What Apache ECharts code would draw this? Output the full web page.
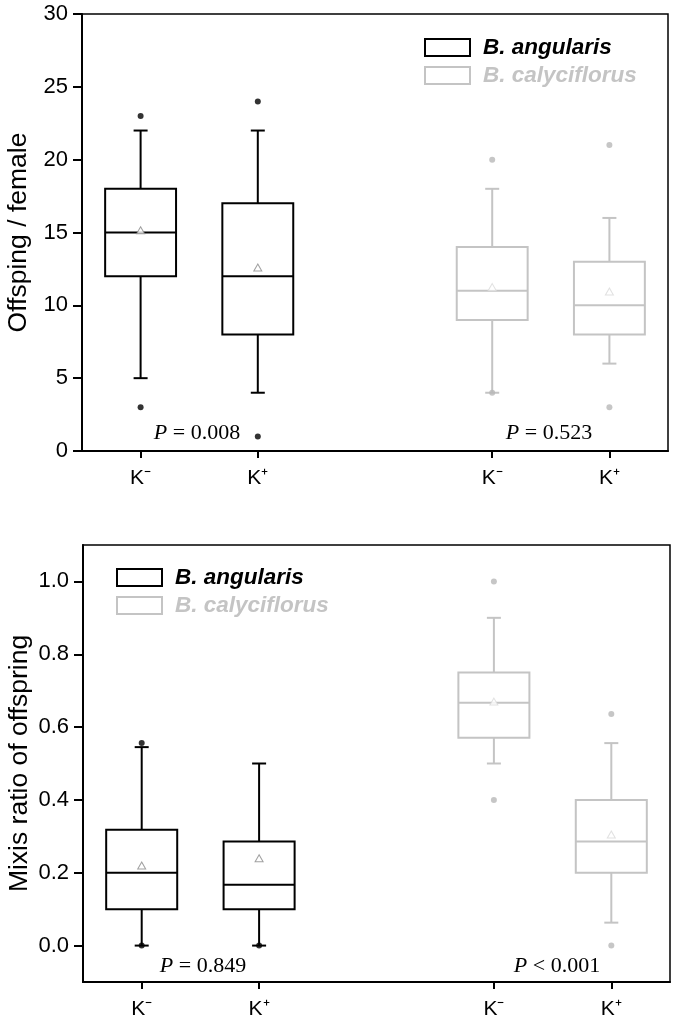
<!DOCTYPE html>
<html>
<head>
<meta charset="utf-8">
<script src="https://cdn.jsdelivr.net/npm/echarts@6/dist/echarts.min.js"></script>
<style>html,body{margin:0;padding:0;background:#fff;}#c{width:675px;height:1018px;}</style>
</head>
<body>
<div id="c"></div>
<script>
// ---- data ----
const categories = ['K⁻', 'K⁺', '', 'K⁻', 'K⁺'];
const angIdx = [0, 1];
const calyIdx = [3, 4];
const seriesNames = ['B. angularis', 'B. calyciflorus'];

// box stats: [min whisker, Q1, median, Q3, max whisker]
const offspringAngBox = [[5, 12, 15, 18, 22], [4, 8, 12, 17, 22]];
const offspringCalyBox = [[4, 9, 11, 14, 18], [6, 8, 10, 13, 16]];
const offspringAngOut = [[23, 3], [24, 1]];
const offspringCalyOut = [[20, 4], [21, 3]];
const offspringAngMean = [15.15, 12.6];
const offspringCalyMean = [11.25, 10.95];
const offspringTicks = [0, 5, 10, 15, 20, 25, 30];

const mixisAngBox = [[0, 0.1, 0.2, 0.318, 0.545], [0, 0.1, 0.167, 0.286, 0.5]];
const mixisCalyBox = [[0.5, 0.571, 0.667, 0.75, 0.9], [0.063, 0.2, 0.286, 0.4, 0.556]];
const mixisAngOut = [[0.556, 0], [0]];
const mixisCalyOut = [[1.0, 0.4], [0.636, 0]];
const mixisAngMean = [0.22, 0.24];
const mixisCalyMean = [0.67, 0.305];
const mixisTicks = [0.0, 0.2, 0.4, 0.6, 0.8, 1.0];

const pTexts = [['P', ' = 0.008'], ['P', ' = 0.523'], ['P', ' = 0.849'], ['P', ' < 0.001']];

// ---- styling ----
const BLACK = '#000';
const GREY = '#c4c4c4';
const FONT = 'Liberation Sans, Arial, sans-serif';

function boxRender(color) {
  return function (params, api) {
    const x = api.value(0);
    const pMin = api.coord([x, api.value(1)]);
    const pQ1 = api.coord([x, api.value(2)]);
    const pMed = api.coord([x, api.value(3)]);
    const pQ3 = api.coord([x, api.value(4)]);
    const pMax = api.coord([x, api.value(5)]);
    const bw = api.size([1, 0])[0] * 0.605;
    const cap = 14;
    const cx = pMed[0];
    const st = { stroke: color, lineWidth: 2, fill: null };
    return {
      type: 'group',
      children: [
        { type: 'line', shape: { x1: cx, y1: pMax[1], x2: cx, y2: pQ3[1] }, style: st },
        { type: 'line', shape: { x1: cx, y1: pQ1[1], x2: cx, y2: pMin[1] }, style: st },
        { type: 'line', shape: { x1: cx - cap / 2, y1: pMax[1], x2: cx + cap / 2, y2: pMax[1] }, style: st },
        { type: 'line', shape: { x1: cx - cap / 2, y1: pMin[1], x2: cx + cap / 2, y2: pMin[1] }, style: st },
        { type: 'rect', shape: { x: cx - bw / 2, y: pQ3[1], width: bw, height: pQ1[1] - pQ3[1] }, style: { stroke: color, lineWidth: 2, fill: '#fff' } },
        { type: 'line', shape: { x1: cx - bw / 2, y1: pMed[1], x2: cx + bw / 2, y2: pMed[1] }, style: st }
      ]
    };
  };
}

function boxData(boxes, idx) { return boxes.map((b, i) => [idx[i]].concat(b)); }
function outData(outs, idx) {
  const r = [];
  outs.forEach((arr, i) => arr.forEach(v => r.push([idx[i], v])));
  return r;
}
function meanData(means, idx) { return means.map((m, i) => [idx[i], m]); }

function panelSeries(gi, angBox, calyBox, angOut, calyOut, angMean, calyMean) {
  return [
    { type: 'custom', name: seriesNames[0], xAxisIndex: gi, yAxisIndex: gi, renderItem: boxRender(BLACK), data: boxData(angBox, angIdx), itemStyle: { color: BLACK }, z: 2 },
    { type: 'custom', name: seriesNames[1], xAxisIndex: gi, yAxisIndex: gi, renderItem: boxRender(GREY), data: boxData(calyBox, calyIdx), itemStyle: { color: GREY }, z: 2 },
    { type: 'scatter', xAxisIndex: gi, yAxisIndex: gi, symbol: 'circle', symbolSize: 6, itemStyle: { color: BLACK }, data: outData(angOut, angIdx), z: 4, silent: true },
    { type: 'scatter', xAxisIndex: gi, yAxisIndex: gi, symbol: 'circle', symbolSize: 6, itemStyle: { color: '#b8b8b8' }, data: outData(calyOut, calyIdx), z: 4, silent: true },
    { type: 'scatter', xAxisIndex: gi, yAxisIndex: gi, symbol: 'triangle', symbolSize: [8, 7], itemStyle: { color: '#fff', borderColor: '#8a8a8a', borderWidth: 1 }, data: meanData(angMean, angIdx), z: 5, silent: true },
    { type: 'scatter', xAxisIndex: gi, yAxisIndex: gi, symbol: 'triangle', symbolSize: [8, 7], itemStyle: { color: '#fff', borderColor: '#dadada', borderWidth: 1 }, data: meanData(calyMean, calyIdx), z: 5, silent: true }
  ];
}

function xAxisDef(gi) {
  return {
    type: 'category', gridIndex: gi, data: categories, boundaryGap: true,
    axisLine: { onZero: false, lineStyle: { color: BLACK, width: 2 } },
    axisTick: { show: true, alignWithLabel: true, length: 7, interval: (i) => categories[i] !== '', lineStyle: { color: BLACK, width: 2 } },
    axisLabel: { color: BLACK, fontFamily: FONT, fontSize: 21, margin: 17, interval: 0 },
    splitLine: { show: false }
  };
}

function yAxisDef(gi, min, max, ticks, name, fmt) {
  return {
    type: 'value', gridIndex: gi, min: min, max: max,
    name: name, nameLocation: 'middle', nameGap: 50, nameMoveOverlap: false,
    nameTextStyle: { color: BLACK, fontFamily: FONT, fontSize: 26.5 },
    axisLine: { show: true, onZero: false, lineStyle: { color: BLACK, width: 2 } },
    axisTick: { show: true, length: 9, customValues: ticks, lineStyle: { color: BLACK, width: 2 } },
    axisLabel: { color: BLACK, fontFamily: FONT, fontSize: 22, margin: 14, customValues: ticks, formatter: fmt },
    splitLine: { show: false }
  };
}

function legendDef(left, top) {
  return {
    left: left, top: top, orient: 'vertical', itemWidth: 45, itemHeight: 17, itemGap: 5, padding: 0,
    selectedMode: false,
    textStyle: { fontFamily: FONT, fontSize: 22.5, fontWeight: 'bold', fontStyle: 'italic', padding: [0, 0, 0, 8] },
    data: [
      { name: seriesNames[0], icon: 'rect', itemStyle: { color: '#fff', borderColor: BLACK, borderWidth: 2 }, textStyle: { color: BLACK } },
      { name: seriesNames[1], icon: 'rect', itemStyle: { color: '#fff', borderColor: GREY, borderWidth: 2 }, textStyle: { color: GREY } }
    ]
  };
}

function pLabel(t, cx, cy) {
  return {
    type: 'text', x: cx, y: cy,
    style: {
      text: '{i|' + t[0] + '}{n|' + t[1] + '}',
      align: 'center', verticalAlign: 'middle',
      rich: {
        i: { fontFamily: 'Liberation Serif, Times New Roman, serif', fontStyle: 'italic', fontSize: 22, fill: BLACK },
        n: { fontFamily: 'Liberation Serif, Times New Roman, serif', fontSize: 22, fill: BLACK }
      }
    }
  };
}

const chart = echarts.init(document.getElementById('c'), null, { renderer: 'canvas' });
chart.setOption({
  animation: false,
  backgroundColor: '#fff',
  grid: [
    { left: 82, right: 7, top: 14, height: 437, containLabel: false, outerBoundsMode: 'none', show: true, borderColor: BLACK, borderWidth: 1.5, backgroundColor: 'transparent' },
    { left: 83, right: 5, top: 545, height: 437, containLabel: false, outerBoundsMode: 'none', show: true, borderColor: BLACK, borderWidth: 1.5, backgroundColor: 'transparent' }
  ],
  legend: [legendDef(424, 36), legendDef(116, 566)],
  xAxis: [xAxisDef(0), xAxisDef(1)],
  yAxis: [
    yAxisDef(0, 0, 30, offspringTicks, 'Offsping / female', (v) => String(v)),
    yAxisDef(1, -0.1, 1.1, mixisTicks, 'Mixis ratio of offspring', (v) => v.toFixed(1))
  ],
  series: [].concat(
    panelSeries(0, offspringAngBox, offspringCalyBox, offspringAngOut, offspringCalyOut, offspringAngMean, offspringCalyMean),
    panelSeries(1, mixisAngBox, mixisCalyBox, mixisAngOut, mixisCalyOut, mixisAngMean, mixisCalyMean)
  ),
  graphic: [
    pLabel(pTexts[0], 197, 433),
    pLabel(pTexts[1], 549, 433),
    pLabel(pTexts[2], 203, 966),
    pLabel(pTexts[3], 557, 966)
  ]
});
</script>
</body>
</html>
